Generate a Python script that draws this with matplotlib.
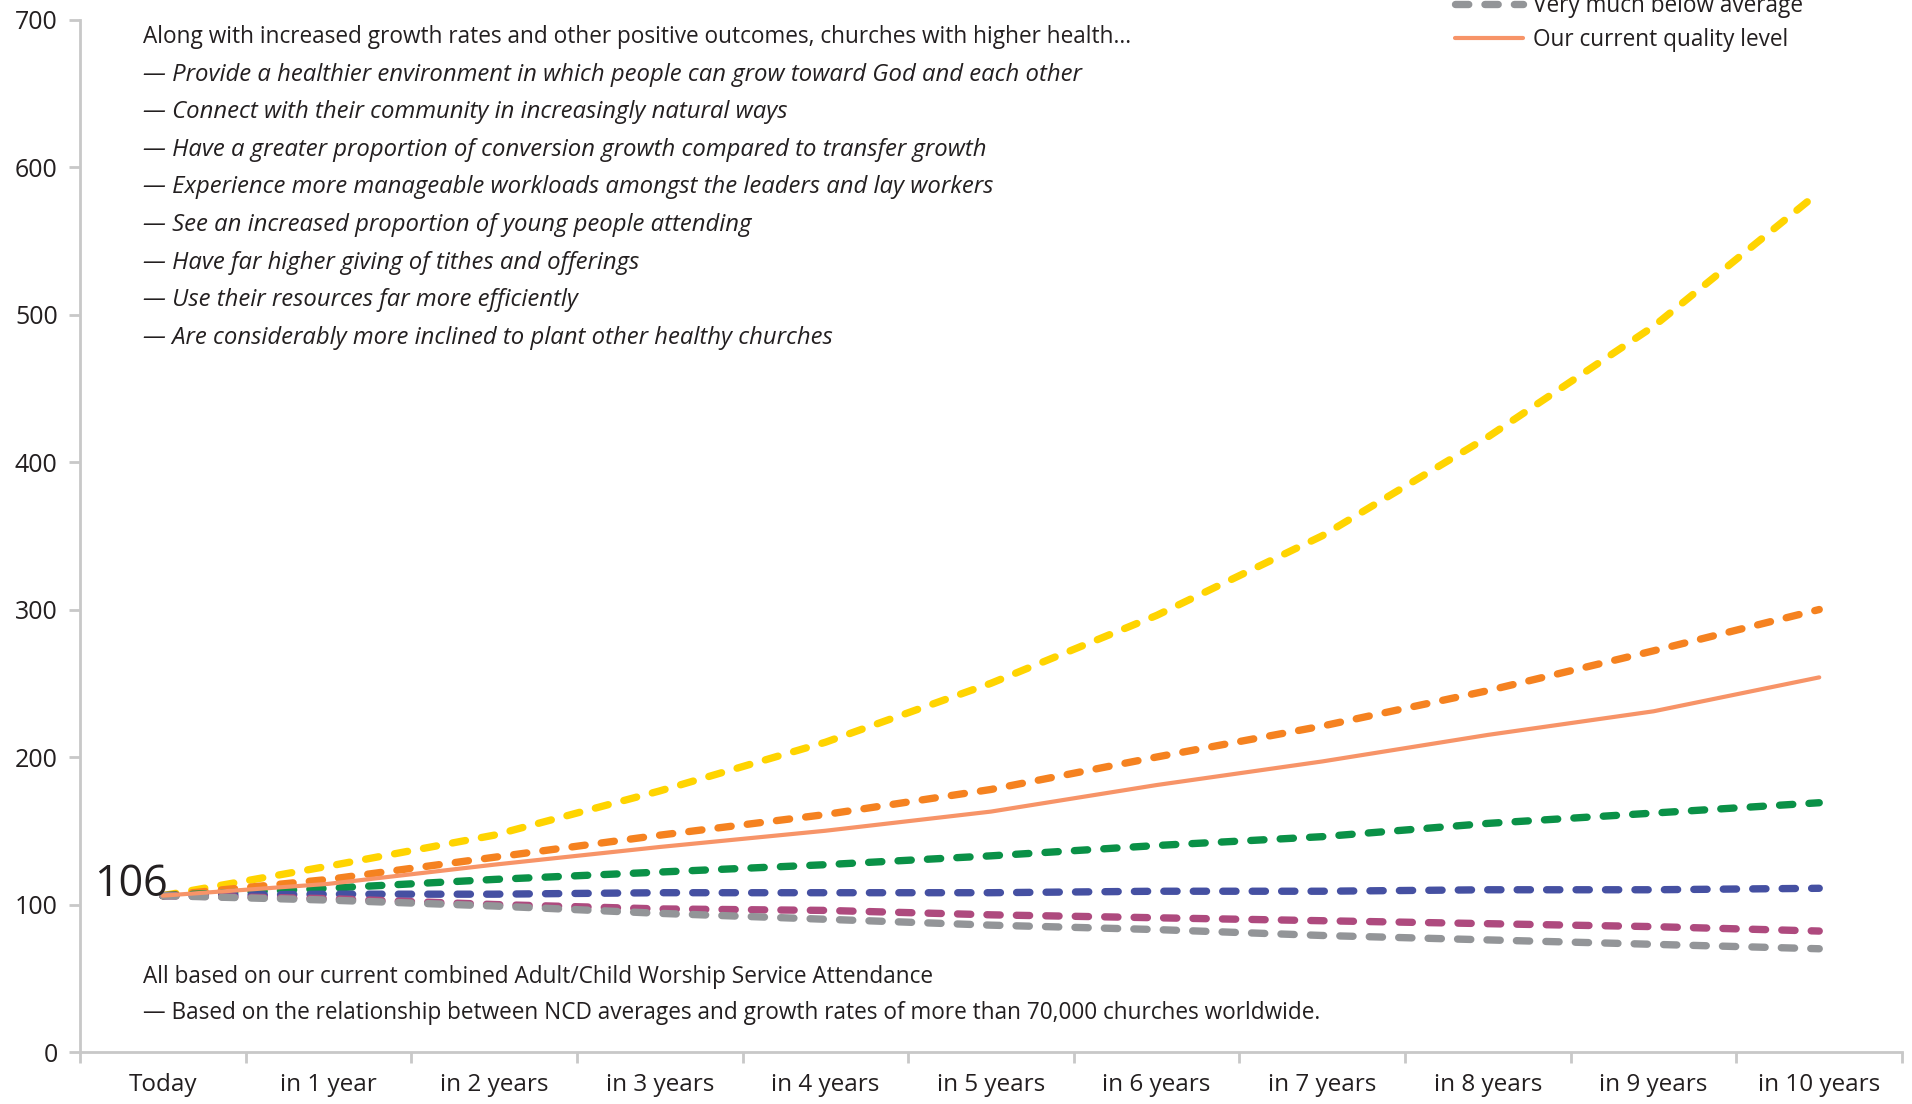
import numpy as np
import matplotlib.pyplot as plt

plt.rcParams['font.family'] = ['Open Sans', 'DejaVu Sans']

periods = ["Today", "in 1 year", "in 2 years", "in 3 years", "in 4 years", "in 5 years",
           "in 6 years", "in 7 years", "in 8 years", "in 9 years", "in 10 years"]

very_much_above = [106, 126, 147, 177, 210, 250, 296, 350, 417, 492, 583]
above = [106, 117, 132, 147, 161, 178, 200, 221, 245, 272, 300]
slightly_above = [106, 111, 117, 122, 127, 133, 140, 146, 155, 162, 169]
slightly_below = [106, 107, 107, 108, 108, 108, 109, 109, 110, 110, 111]
below = [106, 104, 100, 97, 96, 93, 91, 89, 87, 85, 82]
very_much_below = [106, 103, 99, 94, 90, 86, 83, 79, 76, 73, 70]
current_level = [106, 114, 127, 139, 150, 163, 181, 197, 215, 231, 254]

series = [
    ("Very much above average", very_much_above, "#FFD400"),
    ("Above average", above, "#F58220"),
    ("Slightly above average", slightly_above, "#0A9147"),
    ("Slightly below average", slightly_below, "#4550A2"),
    ("Below average", below, "#AE4A7E"),
    ("Very much below average", very_much_below, "#939598"),
]

intro = "Along with increased growth rates and other positive outcomes, churches with higher health..."
benefits = [
    "Provide a healthier environment in which people can grow toward God and each other",
    "Connect with their community in increasingly natural ways",
    "Have a greater proportion of conversion growth compared to transfer growth",
    "Experience more manageable workloads amongst the leaders and lay workers",
    "See an increased proportion of young people attending",
    "Have far higher giving of tithes and offerings",
    "Use their resources far more efficiently",
    "Are considerably more inclined to plant other healthy churches",
]
notes = [
    "All based on our current combined Adult/Child Worship Service Attendance",
    "\u2014 Based on the relationship between NCD averages and growth rates of more than 70,000 churches worldwide.",
]

fig = plt.figure(figsize=(19.12, 11.04), dpi=100)
ax = fig.add_axes([0.0418, 0.0471, 0.953, 0.9352])

x = np.arange(len(periods))
for label, vals, col in series:
    ax.plot(x, vals, color=col, lw=5.3, dashes=(1.8, 2.2),
            dash_capstyle='round', solid_capstyle='round', label=label)
ax.plot(x, current_level, color="#F79468", lw=3.0, solid_capstyle='round',
        label="Our current quality level")

ax.set_xlim(-0.5, len(periods) - 0.5)
ax.set_ylim(0, 700)
ax.set_yticks(range(0, 701, 100))
ax.set_xticks(x)
ax.set_xticklabels(periods)
ax.set_xticks(np.arange(-0.5, len(periods), 1), minor=True)

grey = "#C8C8C8"
for s in ["top", "right"]:
    ax.spines[s].set_visible(False)
for s in ["left", "bottom"]:
    ax.spines[s].set_color(grey)
    ax.spines[s].set_linewidth(2)
ax.tick_params(axis='y', direction='out', length=8, width=2, color=grey,
               labelsize=18, labelcolor="#231F20", pad=8)
ax.tick_params(axis='x', which='major', length=0, labelsize=17.5,
               labelcolor="#231F20", pad=15)
ax.tick_params(axis='x', which='minor', direction='out', length=8, width=2, color=grey)

ax.text(0.03, 106, "106", ha='right', va='baseline', fontsize=31, color="#231F20")

# explanatory text block in the upper left
tx, ty, step = 143 / 1912, 1 - 37 / 1104, 37.6 / 1104
fig.text(tx, ty, intro, fontsize=16.3, color="#231F20", va='center')
for i, line in enumerate(benefits):
    fig.text(tx, ty - (i + 1) * step, "\u2014 " + line, fontsize=17.2,
             style='italic', color="#231F20", va='center')

fig.text(tx, 1 - 977 / 1104, notes[0], fontsize=16.3, color="#231F20", va='center')
fig.text(tx, 1 - 1013 / 1104, notes[1], fontsize=16.3, color="#231F20", va='center')

leg = fig.legend(loc='lower left', bbox_to_anchor=(1455 / 1912, 1 - 52 / 1104),
                 frameon=False, fontsize=16.3, handlelength=3.0, labelspacing=0.45,
                 handletextpad=0.45, borderaxespad=0, borderpad=0)
for t in leg.get_texts():
    t.set_color("#231F20")

fig.savefig("out.png", dpi=100)
